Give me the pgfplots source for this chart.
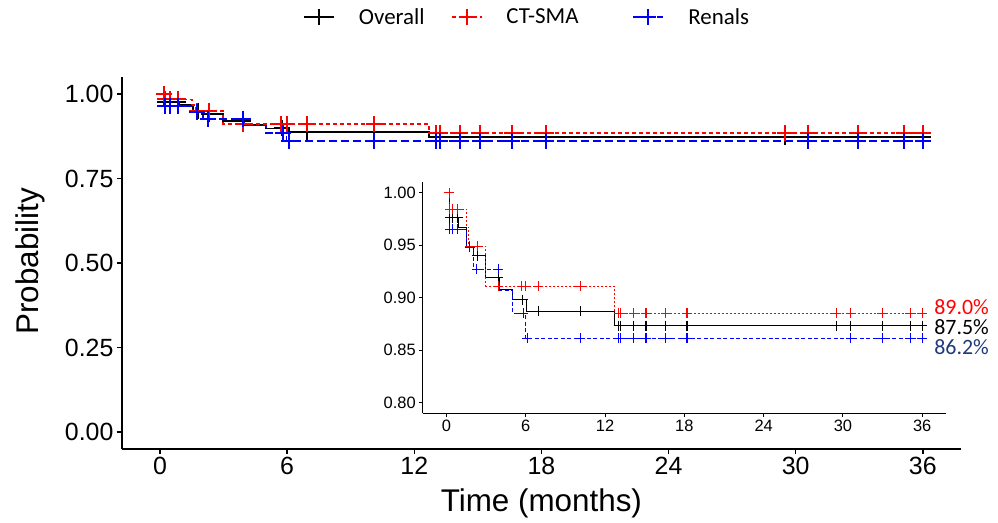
\documentclass[border=0pt]{standalone}
\usepackage{fontspec}
\setmainfont{Liberation Sans}
\newfontfamily\calibri{Carlito}
\usepackage{pgfplots}
\usepackage{pgfplotstable}
\pgfplotsset{compat=1.18}

\definecolor{ctred}{HTML}{FF0000}
\definecolor{renblue}{HTML}{0000FF}
\definecolor{pctnavy}{HTML}{1F3A7A}

% Kaplan-Meier steps (time in months, survival probability)
\pgfplotstableread{
t s
0 1
0.20 0.976
0.88 0.967
1.55 0.949
2.02 0.940
2.98 0.919
3.98 0.908
5.00 0.898
6.07 0.887
12.68 0.8735
36.0 0.8735
}\overallsteps
\pgfplotstableread{
t s
0.25 0.976
0.45 0.976
0.85 0.976
1.77 0.949
2.33 0.940
3.92 0.919
5.77 0.898
6.96 0.887
10.12 0.887
13.03 0.8735
13.20 0.8735
14.17 0.8735
15.10 0.8735
16.60 0.8735
18.20 0.8735
29.50 0.8735
30.60 0.8735
32.96 0.8735
35.10 0.8735
36.00 0.8735
}\overallcens
\pgfplotstableread{
t s
0 1
0.22 0.984
1.52 0.967
1.69 0.949
2.96 0.911
12.68 0.885
36.0 0.885
}\ctsteps
\pgfplotstableread{
t s
0.20 1.000
0.25 0.984
0.45 0.984
0.85 0.984
1.75 0.949
2.33 0.949
3.92 0.911
5.70 0.911
6.00 0.911
6.96 0.911
10.12 0.911
13.03 0.885
13.20 0.885
14.17 0.885
15.10 0.885
16.60 0.885
18.20 0.885
29.50 0.885
30.60 0.885
32.96 0.885
35.10 0.885
36.00 0.885
}\ctcens
\pgfplotstableread{
t s
0 1
0.20 0.965
1.55 0.948
2.02 0.927
3.97 0.907
5.00 0.885
5.97 0.8615
36.0 0.8615
}\rensteps
\pgfplotstableread{
t s
0.25 0.965
0.45 0.965
0.85 0.965
1.75 0.948
2.28 0.927
3.92 0.927
5.82 0.885
6.10 0.8615
10.12 0.8615
13.03 0.8615
13.20 0.8615
14.17 0.8615
15.10 0.8615
16.60 0.8615
18.20 0.8615
30.60 0.8615
32.96 0.8615
35.10 0.8615
36.00 0.8615
}\rencens

\begin{document}
\begin{tikzpicture}
\useasboundingbox (0,0) rectangle (998bp,523bp);
\pgfplotsset{
  kmaxis/.style={
    scale only axis, anchor=south west,
    xmin=-1.8, xmax=37.8,
    axis x line*=bottom, axis y line*=left,
    axis line style={-, black},
    tick align=outside,
    xtick={0,6,...,36},
    major tick style={black},
    /pgf/number format/assume math mode=true,
    yticklabel style={/pgf/number format/.cd, fixed, fixed zerofill, precision=2},
  },
}

% main panel
\begin{axis}[kmaxis,
    at={(121.9bp,74.1bp)}, width=839bp, height=371.8bp,
    ymin=-0.05, ymax=1.05,
    ytick={0,0.25,0.5,0.75,1},
    axis line style={line width=2bp},
    major tick style={line width=1.5bp},
    major tick length=5bp,
    tick label style={font=\fontsize{25}{25}\selectfont},
    xlabel={Time (months)}, ylabel={Probability},
    every axis x label/.style={at={(axis description cs:0.5,-0.1455)}, anchor=center,
      font=\fontsize{31.5}{31.5}\selectfont},
    every axis y label/.style={at={(axis description cs:-0.1095,0.505)}, anchor=center,
      rotate=90, font=\fontsize{31.5}{31.5}\selectfont},
    legend columns=3,
    legend image code/.code={\draw[mark repeat=2, mark phase=2, #1] plot coordinates {(0bp,0bp) (15bp,0bp) (30bp,0bp)};},
    legend style={draw=none, fill=none, font=\calibri\fontsize{23}{23}\selectfont,
      at={(axis description cs:0.2123,1.1617)}, anchor=west,
      /tikz/every odd column/.append style={column sep=22bp},
      /tikz/every even column/.append style={column sep=24bp}},
]
\addlegendimage{black, line width=1.8bp, mark=+, mark size=8bp, mark options={solid, line width=2bp}}
\addlegendentry{Overall}
\addlegendimage{ctred, line width=1.8bp, dash pattern=on 4bp off 3bp, mark=+, mark size=8bp, mark options={solid, line width=2bp}}
\addlegendentry{CT-SMA\hspace*{28bp}}
\addlegendimage{renblue, line width=1.8bp, dash pattern=on 8bp off 4bp, mark=+, mark size=8bp, mark options={solid, line width=2bp}}
\addlegendentry{Renals}

\addplot[forget plot, const plot, black, line width=1.8bp] table[x=t, y=s] {\overallsteps};
\addplot[forget plot, only marks, black, mark=+, mark size=8bp, mark options={line width=2bp}] table[x=t, y=s] {\overallcens};
\addplot[forget plot, const plot, ctred, line width=1.8bp, dash pattern=on 4bp off 3bp] table[x=t, y=s] {\ctsteps};
\addplot[forget plot, only marks, ctred, mark=+, mark size=8bp, mark options={line width=2bp}] table[x=t, y=s] {\ctcens};
\addplot[forget plot, const plot, renblue, line width=1.8bp, dash pattern=on 8bp off 4bp] table[x=t, y=s] {\rensteps};
\addplot[forget plot, only marks, renblue, mark=+, mark size=8bp, mark options={line width=2bp}] table[x=t, y=s] {\rencens};
\end{axis}

% inset zoom
\begin{axis}[kmaxis,
    at={(422.7bp,109.7bp)}, width=523.3bp, height=231.3bp,
    ymin=0.79, ymax=1.01,
    ytick={0.80,0.85,0.90,0.95,1.00},
    clip=false,
    axis line style={line width=1.3bp},
    major tick style={line width=1bp},
    major tick length=3.5bp,
    tick label style={font=\fontsize{16.5}{16.5}\selectfont},
]
\addplot[const plot, black, line width=1bp] table[x=t, y=s] {\overallsteps};
\addplot[only marks, black, mark=+, mark size=5bp, mark options={line width=1.1bp}] table[x=t, y=s] {\overallcens};
\addplot[const plot, ctred, line width=1bp, dash pattern=on 2bp off 2bp] table[x=t, y=s] {\ctsteps};
\addplot[only marks, ctred, mark=+, mark size=5bp, mark options={line width=1.1bp}] table[x=t, y=s] {\ctcens};
\addplot[const plot, renblue, line width=1bp, dash pattern=on 4bp off 2.5bp] table[x=t, y=s] {\rensteps};
\addplot[only marks, renblue, mark=+, mark size=5bp, mark options={line width=1.1bp}] table[x=t, y=s] {\rencens};
\node[anchor=west, text=ctred, font=\calibri\fontsize{22}{22}\selectfont, inner sep=0pt] at (axis cs:36.9,0.8913) {89.0\%};
\node[anchor=west, text=black, font=\calibri\fontsize{22}{22}\selectfont, inner sep=0pt] at (axis cs:36.9,0.8723) {87.5\%};
\node[anchor=west, text=pctnavy, font=\calibri\fontsize{22}{22}\selectfont, inner sep=0pt] at (axis cs:36.9,0.8533) {86.2\%};
\end{axis}
\end{tikzpicture}
\end{document}
